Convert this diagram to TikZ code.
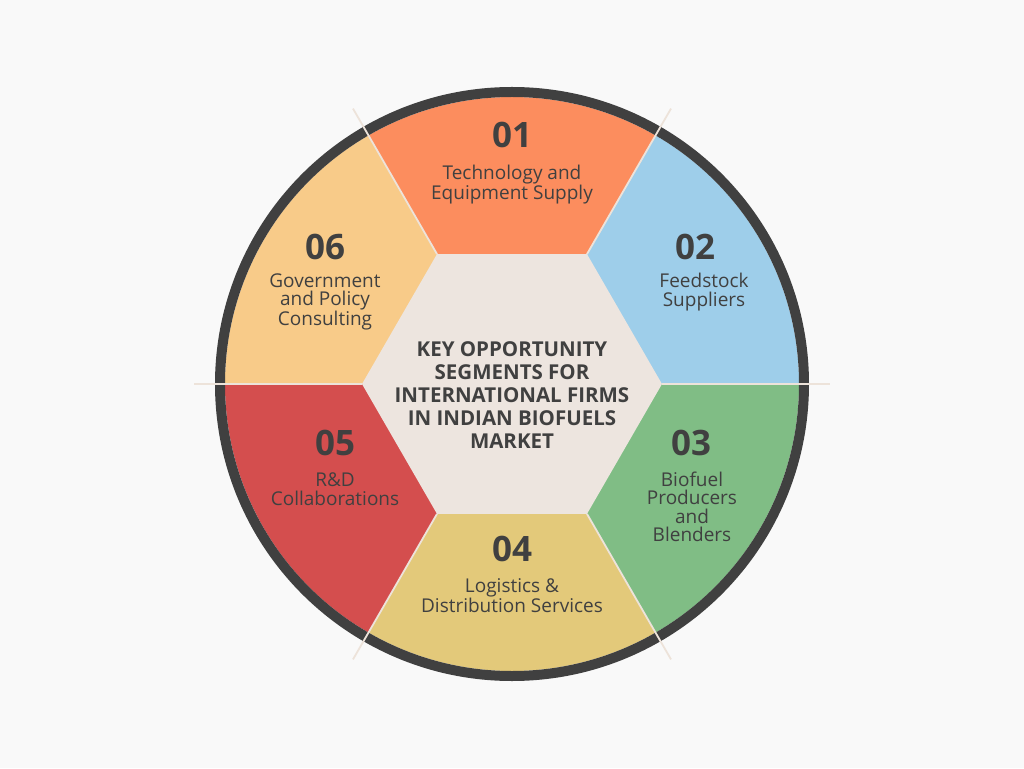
\documentclass[tikz,border=0pt]{standalone}
\usepackage{fontspec}
\setmainfont{Open Sans}
\definecolor{bgcol}{HTML}{F9F9F9}
\definecolor{ringcol}{HTML}{404040}
\definecolor{txtcol}{HTML}{404040}
\definecolor{hexcol}{HTML}{EDE5DF}
\definecolor{sepcol}{HTML}{EDE3DA}
\definecolor{segA}{HTML}{FC8D5E}
\definecolor{segB}{HTML}{9ECEEA}
\definecolor{segC}{HTML}{80BD85}
\definecolor{segD}{HTML}{E3C97A}
\definecolor{segE}{HTML}{D44E4E}
\definecolor{segF}{HTML}{F8CB89}
\tikzset{
    num/.style={font=\bfseries\fontsize{35}{35}\selectfont, text=txtcol},
    lbl/.style={font=\fontsize{19}{18.5}\selectfont, text=txtcol, align=center},
    ttl/.style={font=\bfseries\fontsize{20.5}{23}\selectfont, text=txtcol, align=center},
}
\begin{document}
\begin{tikzpicture}[x=1pt,y=1pt]
			\fill[bgcol] (-512,-384) rectangle (512,384);
			\useasboundingbox (-512,-384) rectangle (512,384);
			% sectors
			\foreach \a/\c in {60/segA,0/segB,-60/segC,-120/segD,180/segE,120/segF}{
				\fill[\c] (0,0) -- (\a:287) arc (\a:\a+60:287) -- cycle;
			}
			\fill[hexcol] (0:150) -- (60:150) -- (120:150) -- (180:150) -- (240:150) -- (300:150) -- cycle;
			\draw[ringcol, line width=10pt] (0,0) circle (292);
			% separators
			\foreach \a in {0,60,...,300}{
				\draw[sepcol, line width=1.8pt] (\a:150) -- (\a:318);
			}
			\node[ttl] (title) at (0,-11) {KEY OPPORTUNITY\\SEGMENTS FOR\\INTERNATIONAL FIRMS\\IN INDIAN BIOFUELS\\MARKET};
			\node[num] (n1) at (0,249) {01};
			\node[lbl] (l1) at (0,199) {Technology and\\Equipment Supply};
			\node[num] (n2) at (183,137) {02};
			\node[lbl] (l2) at (192,92) {Feedstock\\Suppliers};
			\node[num] (n3) at (179,-59) {03};
			\node[lbl] (l3) at (180,-123) {Biofuel\\Producers\\and\\Blenders};
			\node[num] (n4) at (0,-165) {04};
			\node[lbl] (l4) at (0,-212) {Logistics \&\\Distribution Services};
			\node[num] (n5) at (-177,-59) {05};
			\node[lbl] (l5) at (-177,-105) {R\&D\\Collaborations};
			\node[num] (n6) at (-187,137) {06};
			\node[lbl] (l6) at (-187,82) {Government\\and Policy\\Consulting};
		\end{tikzpicture}
\end{document}
